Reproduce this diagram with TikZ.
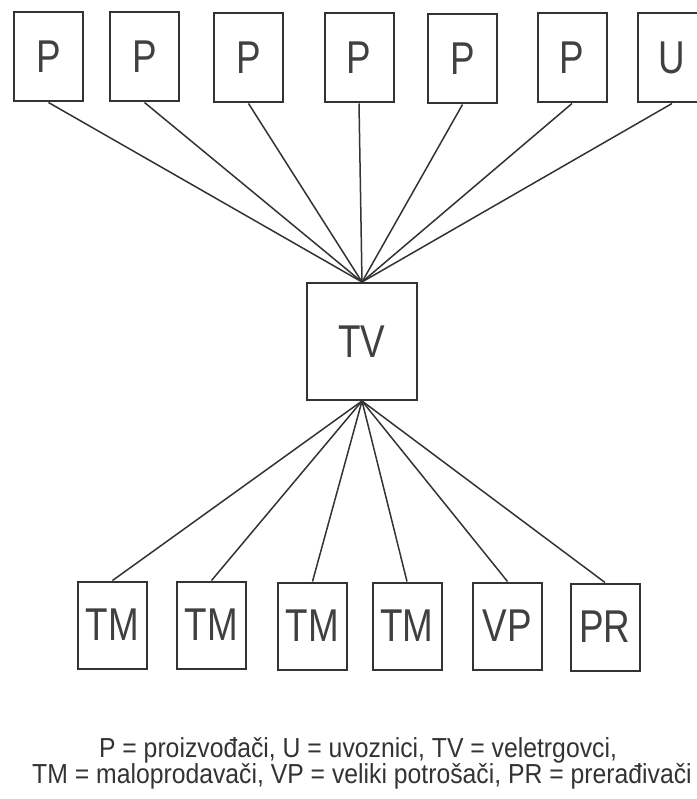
\documentclass[tikz,border=0pt]{standalone}
\usepackage{fontspec}
\setmainfont{Liberation Sans}
\newfontfamily\boxfont{Liberation Sans}[FakeStretch=0.8]
\newfontfamily\legendfont{Liberation Sans}[FakeStretch=0.9]
\usetikzlibrary{positioning}

\begin{document}
\begin{tikzpicture}[x=1pt,y=-1pt,
    unit/.style={draw=black!80, line width=2pt, minimum width=69pt, minimum height=89pt,
                 inner sep=0pt, text=black!75, font=\boxfont\fontsize{46}{46}\selectfont},
    hub/.style={unit, minimum width=110pt, minimum height=117pt},
    link/.style={draw=black!80, line width=1.5pt},
    legend/.style={anchor=base, text=black!80, inner sep=0pt,
                   font=\legendfont\fontsize{27.5}{27.5}\selectfont}]
   \useasboundingbox (0,0) rectangle (696,799);

   % suppliers
   \node[unit] (p1) at (48.5,57) {P};
   \node[unit] (p2) at (144.5,57) {P};
   \node[unit] (p3) at (248.5,58) {P};
   \node[unit] (p4) at (359,58) {P};
   \node[unit] (p5) at (462.5,59) {P};
   \node[unit] (p6) at (572,58) {P};
   \node[unit] (u1) at (672,58) {U};

   % wholesaler
   \node[hub] (tv) at (362,341.5) {TV};

   % buyers
   \node[unit, minimum height=87pt] (tm1) at (112.5,625) {TM};
   \node[unit, minimum height=87pt] (tm2) at (211.5,625) {TM};
   \node[unit, minimum height=87pt] (tm3) at (312.5,626) {TM};
   \node[unit, minimum height=87pt] (tm4) at (407,626) {TM};
   \node[unit, minimum height=87pt] (vp) at (507.5,626) {VP};
   \node[unit, minimum height=87pt] (pr) at (605,627) {PR};

   \draw[link] (p1.south) -- (tv.north);
   \draw[link] (p2.south) -- (tv.north);
   \draw[link] (p3.south) -- (tv.north);
   \draw[link] (p4.south) -- (tv.north);
   \draw[link] (p5.south) -- (tv.north);
   \draw[link] (p6.south) -- (tv.north);
   \draw[link] (u1.south) -- (tv.north);

   \draw[link] (tv.south) -- (tm1.north);
   \draw[link] (tv.south) -- (tm2.north);
   \draw[link] (tv.south) -- (tm3.north);
   \draw[link] (tv.south) -- (tm4.north);
   \draw[link] (tv.south) -- (vp.north);
   \draw[link] (tv.south) -- (pr.north);

   % key
   \node[legend] (key1) at (358,757) {P = proizvođači, U = uvoznici, TV = veletrgovci,};
   \node[legend] (key2) at (362,783) {TM = maloprodavači, VP = veliki potrošači, PR = prerađivači};
\end{tikzpicture}
\end{document}
